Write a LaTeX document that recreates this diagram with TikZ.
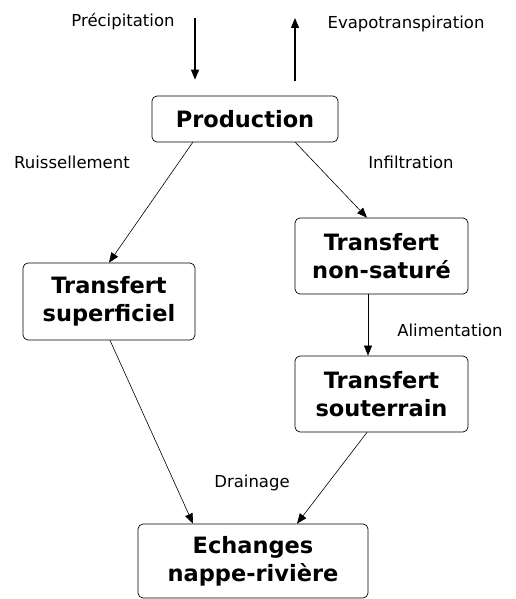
\documentclass[tikz,border=0pt]{standalone}
\usepackage{fontspec}
\setmainfont{DejaVu Sans}
\newfontfamily\lblfont{DejaVu Sans}
\usetikzlibrary{arrows.meta}
\begin{document}
\begin{tikzpicture}[x=1pt,y=-1pt,
  box/.style={draw,rounded corners=5pt,line width=0.7pt,font=\bfseries\fontsize{22.5}{28}\selectfont,align=center,inner sep=0pt},
  lbl/.style={font=\lblfont\fontsize{16.5}{18}\selectfont,inner sep=0pt},
  arr/.style={-{Triangle[length=10pt,width=8pt]},line width=0.6pt},
  thick arr/.style={-{Triangle[length=10pt,width=8pt]},line width=1.2pt}]
\useasboundingbox (0,0) rectangle (515,599);
\node[box,minimum width=186pt,minimum height=46pt] (prod) at (245,119) {Production};
\node[box,minimum width=172pt,minimum height=77pt] (sup) at (109,301.5) {Transfert\\superficiel};
\node[box,minimum width=173pt,minimum height=76pt] (ns) at (381.5,256) {Transfert\\non-saturé};
\node[box,minimum width=173pt,minimum height=76pt] (sout) at (381.5,394) {Transfert\\souterrain};
\node[box,minimum width=230pt,minimum height=74pt] (ech) at (253,561) {Echanges\\nappe-rivière};
\coordinate (pin) at (195,18);
\coordinate (evtop) at (295,18);
\draw[thick arr,shorten >=16pt] (pin) -- (prod.north -| pin);
\draw[thick arr,shorten <=15pt] (prod.north -| evtop) -- (evtop);
\node[lbl] (lp) at (123,22) {Précipitation};
\node[lbl] (le) at (406,24) {Evapotranspiration};
\draw[arr] (193,142) -- (sup.north);
\draw[arr] (295,142) -- (ns.north -| 367,0);
\draw[arr] (ns.south -| 368,0) -- (sout.north -| 368,0);
\draw[arr] (sup.south -| 110,0) -- (ech.north -| 193,0);
\draw[arr] (sout.south -| 367,0) -- (ech.north -| 297,0);
\node[lbl] (lr) at (72,162) {Ruissellement};
\node[lbl] (li) at (411,162) {Infiltration};
\node[lbl] (la) at (450,330) {Alimentation};
\node[lbl] (ld) at (252,483) {Drainage};
\end{tikzpicture}
\end{document}
